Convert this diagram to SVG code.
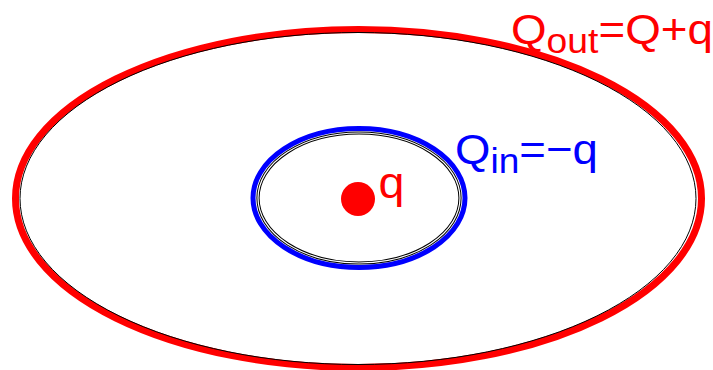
<svg xmlns="http://www.w3.org/2000/svg" width="713" height="370" viewBox="0 0 713 370">
<style>
.lbl{font-family:"Liberation Sans",Arial,sans-serif;font-size:43px}
.sub{font-size:35px}
.thin{fill:none;stroke:#000;stroke-width:1}
</style>
<rect width="713" height="370" fill="#fff"/>
<g id="outer-shell">
<ellipse cx="358.5" cy="198.5" rx="343" ry="169" fill="none" stroke="#ff0000" stroke-width="7"/>
<ellipse cx="358" cy="198.5" rx="338" ry="166" class="thin"/>
</g>
<g id="inner-shell">
<ellipse cx="359" cy="198" rx="106" ry="69.5" fill="none" stroke="#0000ff" stroke-width="5"/>
<ellipse cx="359" cy="198" rx="101" ry="65" fill="none" stroke="#000" stroke-width="3.2"/>
<ellipse cx="359" cy="198" rx="101" ry="65" fill="none" stroke="#fff" stroke-width="1.2"/>
</g>
<g id="charge">
<circle cx="358" cy="199" r="17" fill="#ff0000"/>
<text class="lbl" transform="translate(378.5,198) scale(1.06,1)" x="0" y="0" fill="#ff0000" style="font-size:44px">q</text>
</g>
<g id="label-out">
<text class="lbl" transform="translate(511,44) scale(1.065,1)" x="0" y="0" fill="#ff0000">Q<tspan class="sub" dy="9">out</tspan><tspan dy="-9">=Q+q</tspan></text>
</g>
<g id="label-in">
<text class="lbl" transform="translate(455,164) scale(1.06,1)" x="0" y="0" fill="#0000ff">Q<tspan class="sub" dy="9">in</tspan><tspan dy="-9">=−q</tspan></text>
</g>
</svg>
